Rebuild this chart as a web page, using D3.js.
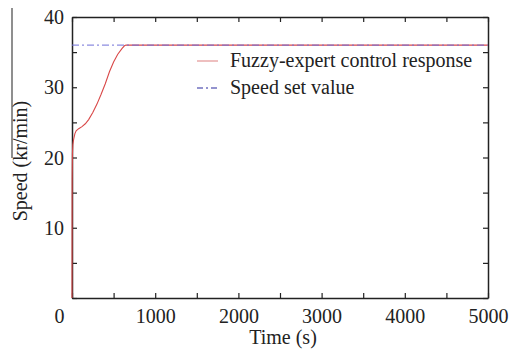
<!DOCTYPE html>
<html>
<head>
<meta charset="utf-8">
<script src="https://cdn.jsdelivr.net/npm/d3@7"></script>
<style>
  body { margin: 0; background: #fff; }
  svg text { font-family: "Liberation Serif", "Times New Roman", serif; fill: #222; }
</style>
</head>
<body>
<div id="chart"></div>
<script>
'use strict';

// response curve
var timeValues  = [0, 2, 5, 10, 20, 35, 50, 80, 120, 160, 200, 250, 300, 350, 400, 450, 500, 550, 600, 630, 650, 700, 5000];
var speedValues = [0, 17, 20.5, 21.8, 22.6, 23.4, 23.8, 24.1, 24.4, 24.8, 25.4, 26.4, 27.6, 29.0, 30.5, 32.2, 33.6, 34.7, 35.5, 35.9, 36, 36, 36];
var setTimes = [0, 5000];
var setSpeeds = [36, 36];
var xTicks = [0, 1000, 2000, 3000, 4000, 5000];
var yTicks = [10, 20, 30, 40];
var legendLabels = ['Fuzzy-expert control response', 'Speed set value'];

function makeLineChart(containerSelector) {
  var width = 509;
  var height = 352;
  var margin = {top: 17, right: 21, bottom: 54, left: 72};
  var w = width - margin.left - margin.right;
  var h = height - margin.top - margin.bottom;
  var fontSize = '20px';

  var svg = d3.select(containerSelector)
              .append('svg')
              .attr('width', width)
              .attr('height', height);

  // leftover edge of the neighbouring figure
  svg.append('line')
     .attr('x1', 12).attr('x2', 12)
     .attr('y1', 8).attr('y2', 158)
     .attr('stroke', '#333').attr('stroke-width', 1.1);

  var g = svg.append('g')
             .attr('transform', 'translate(' + margin.left + ',' + margin.top + ')');

  var x = d3.scaleLinear().domain([0, 5000]).range([0, w]);
  var y = d3.scaleLinear().domain([0, 40]).range([h, 0]);

  var minorX = d3.range(0, 5001, 500);
  var minorY = d3.range(0, 41, 5);

  // inward ticks on all four sides
  var bottom = g.append('g')
                .attr('transform', 'translate(0,' + h + ')')
                .call(d3.axisBottom(x).tickValues(minorX).tickSizeInner(-5).tickSizeOuter(0)
                        .tickFormat(function(d) { return xTicks.indexOf(d) >= 0 ? d : ''; }));
  bottom.selectAll('text')
        .attr('y', 6)
        .attr('dy', '0.95em')
        .style('font-size', fontSize)
        .attr('dx', function(d) { return d === 0 ? -13 : 0; });

  var left = g.append('g')
              .call(d3.axisLeft(y).tickValues(minorY).tickSizeInner(-5).tickSizeOuter(0)
                      .tickFormat(function(d) { return yTicks.indexOf(d) >= 0 ? d : ''; }));
  left.selectAll('text')
      .attr('x', -8)
      .attr('dy', '0.33em')
      .style('font-size', fontSize);

  g.append('g')
   .call(d3.axisTop(x).tickValues(minorX).tickSizeInner(-5).tickSizeOuter(0).tickFormat(''));

  g.append('g')
   .attr('transform', 'translate(' + w + ',0)')
   .call(d3.axisRight(y).tickValues(minorY).tickSizeInner(-5).tickSizeOuter(0).tickFormat(''));

  g.selectAll('.domain').attr('stroke', '#222').attr('stroke-width', 1.5);
  g.selectAll('.tick line').attr('stroke', '#222').attr('stroke-width', 1.2);

  var line = d3.line()
               .x(function(d) { return x(d[0]); })
               .y(function(d) { return y(d[1]); });

  g.append('path')
   .datum(d3.zip(timeValues, speedValues))
   .attr('d', line)
   .attr('fill', 'none')
   .attr('stroke', '#d94848')
   .attr('stroke-width', 1.1);

  // set value drawn over the response, as in the original
  g.append('path')
   .datum(d3.zip(setTimes, setSpeeds))
   .attr('d', line)
   .attr('fill', 'none')
   .attr('stroke', '#7070d8')
   .attr('stroke-width', 1)
   .attr('stroke-dasharray', '7,3,2,3');

  // legend
  var legend = svg.selectAll('.legend')
                  .data(legendLabels)
                  .enter().append('g')
                  .attr('class', 'legend')
                  .attr('transform', function(d, i) { return 'translate(197,' + (61 + i * 27) + ')'; });

  legend.append('line')
        .attr('x1', 0).attr('x2', 21)
        .attr('y1', 0).attr('y2', 0)
        .attr('stroke', function(d, i) { return i === 0 ? '#e08a8a' : '#2a2aa0'; })
        .attr('stroke-width', 1.1)
        .attr('stroke-dasharray', function(d, i) { return i === 0 ? null : '6,3,2,3'; });

  legend.append('text')
        .attr('x', 33)
        .attr('y', 6)
        .style('font-size', fontSize)
        .text(function(d) { return d; });

  svg.append('text')
     .attr('x', 283)
     .attr('y', 344)
     .attr('text-anchor', 'middle')
     .style('font-size', fontSize)
     .text('Time (s)');

  svg.append('text')
     .attr('transform', 'translate(27,161) rotate(-90)')
     .attr('text-anchor', 'middle')
     .style('font-size', fontSize)
     .text('Speed (kr/min)');
}

makeLineChart('#chart');
</script>
</body>
</html>
